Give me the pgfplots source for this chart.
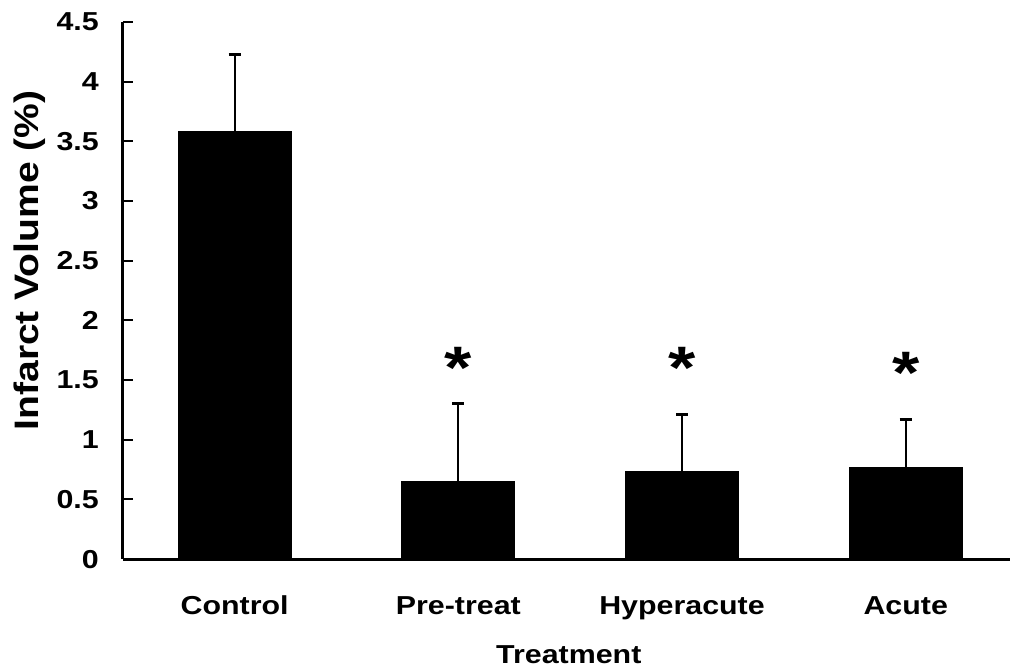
\documentclass[border=0pt]{standalone}
\usepackage{pgfplots}
\pgfplotsset{compat=1.18}
\usepackage{fontspec}
\setmainfont[FakeStretch=1.17]{Liberation Sans}
\newfontfamily\ylabfont[FakeStretch=1.15]{Liberation Sans}
\begin{document}
\begin{tikzpicture}
\begin{axis}[
  scale only axis, width=444pt, height=269pt,
  xmin=-0.5, xmax=3.464, ymin=0, ymax=4.5,
  axis x line=bottom, axis y line=left,
  axis line style={-, line width=1.5pt},
  xtick={0,1,2,3}, xticklabels={Control,Pre-treat,Hyperacute,Acute},
  xtick style={draw=none},
  ytick={0,0.5,1,1.5,2,2.5,3,3.5,4,4.5},
  yticklabels={0,0.5,1,1.5,2,2.5,3,3.5,4,4.5},
  tick align=inside, major tick length=5pt,
  ytick style={line width=1pt, black},
  ticklabel style={font=\bfseries\fontsize{13}{13}\selectfont},
  xticklabel style={yshift=-15pt},
  yticklabel style={xshift=-8.5pt},
  xlabel={Treatment}, ylabel={Infarct Volume (\%)},
  xlabel style={font=\bfseries\fontsize{13}{13}\selectfont, at={(axis description cs:0.503,-0.177)}, anchor=center},
  ylabel style={font=\ylabfont\bfseries\fontsize{17}{17}\selectfont, at={(axis description cs:-0.105,0.556)}, anchor=center},
  clip=false,
]
\addplot[ybar, bar width=0.505, fill=black, draw=black,
  error bars/.cd, y dir=plus, y explicit,
  error bar style={line width=1pt, black},
  error mark options={rotate=90, mark size=3pt, line width=1.5pt, black}]
  table[x=x, y=y, y error=e] {
x y e
0 3.58 0.65
1 0.65 0.65
2 0.735 0.475
3 0.77 0.40
};
\node[font=\bfseries\fontsize{30}{30}\selectfont] at (axis cs:1,1.605) {*};
\node[font=\bfseries\fontsize{30}{30}\selectfont] at (axis cs:2,1.60) {*};
\node[font=\bfseries\fontsize{30}{30}\selectfont] at (axis cs:3,1.56) {*};
\path (rel axis cs:-0.1385,-0.2063) (rel axis cs:1,1.0409);
\end{axis}
\end{tikzpicture}
\end{document}
